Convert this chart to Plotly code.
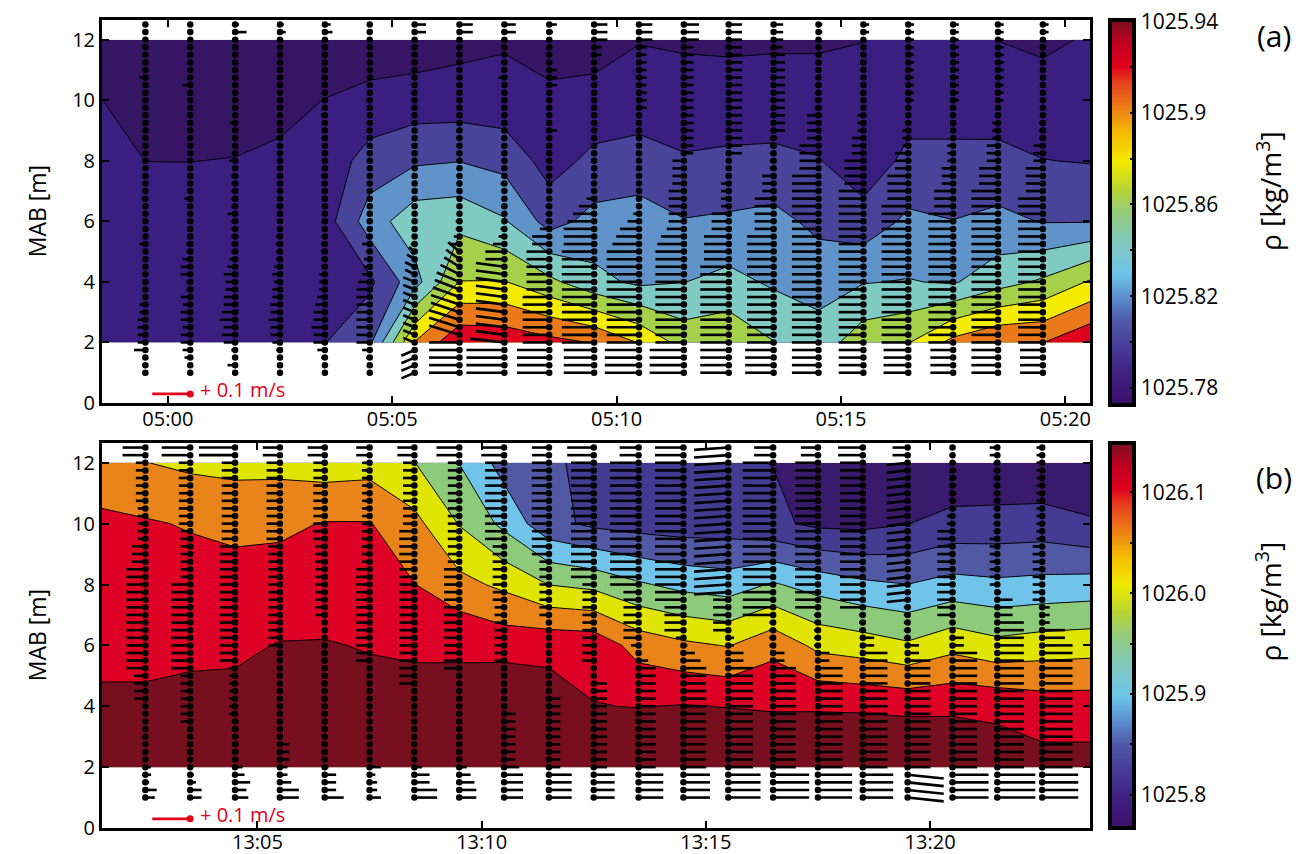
import pandas as pd
import plotly.graph_objects as go

# ------------------------------------------------------------------ data
DATE = "2014-06-01"

# profile (ADCP) times, one stick profile each
TIMES_A = ["04:59:30", "05:00:30", "05:01:30", "05:02:30", "05:03:30", "05:04:30", "05:05:30",
           "05:06:30", "05:07:30", "05:08:30", "05:09:30", "05:10:30", "05:11:30", "05:12:30",
           "05:13:30", "05:14:30", "05:15:30", "05:16:30", "05:17:30", "05:18:30", "05:19:30"]
TIMES_B = ["13:02:30", "13:03:30", "13:04:30", "13:05:30", "13:06:30", "13:07:30", "13:08:30",
           "13:09:30", "13:10:30", "13:11:30", "13:12:30", "13:13:30", "13:14:30", "13:15:30",
           "13:16:30", "13:17:30", "13:18:30", "13:19:30", "13:20:30", "13:21:30", "13:22:30"]
# time limits of the panels (also the outer columns of the density grid)
EDGES_A = ["04:58:32", "05:20:33"]
EDGES_B = ["13:01:32", "13:23:34"]

# density grid heights (m above bottom)
GRID_HEIGHTS = [2, 4, 6, 8, 10, 12]

# density columns [kg/m3] at GRID_HEIGHTS: left edge, 21 profiles, right edge
RHO_A = [
    [1025.792, 1025.790, 1025.788, 1025.786, 1025.7802, 1025.764],
    [1025.792, 1025.790, 1025.788, 1025.7799, 1025.770, 1025.762],
    [1025.792, 1025.790, 1025.788, 1025.7798, 1025.770, 1025.762],
    [1025.792, 1025.790, 1025.788, 1025.7806, 1025.771, 1025.762],
    [1025.792, 1025.790, 1025.789, 1025.785, 1025.772, 1025.762],
    [1025.7994, 1025.790, 1025.791, 1025.788, 1025.7806, 1025.762],
    [1025.816, 1025.796, 1025.830, 1025.808, 1025.786, 1025.768],
    [1025.901, 1025.832, 1025.852, 1025.817, 1025.789, 1025.7688],
    [1025.936, 1025.8804, 1025.8544, 1025.8194, 1025.789, 1025.774],
    [1025.934, 1025.881, 1025.842, 1025.8134, 1025.788, 1025.7776],
    [1025.926, 1025.865, 1025.812, 1025.792, 1025.784, 1025.772],
    [1025.919, 1025.846, 1025.8266, 1025.805, 1025.787, 1025.771],
    [1025.899, 1025.836, 1025.830, 1025.807, 1025.791, 1025.779],
    [1025.872, 1025.8396, 1025.821, 1025.802, 1025.788, 1025.7776],
    [1025.875, 1025.846, 1025.823, 1025.804, 1025.788, 1025.7768],
    [1025.8606, 1025.837, 1025.826, 1025.805, 1025.788, 1025.7776],
    [1025.849, 1025.832, 1025.815, 1025.801, 1025.788, 1025.7776],
    [1025.872, 1025.839, 1025.808, 1025.788, 1025.784, 1025.7798],
    [1025.879, 1025.841, 1025.824, 1025.805, 1025.791, 1025.783],
    [1025.906, 1025.838, 1025.8204, 1025.805, 1025.791, 1025.783],
    [1025.919, 1025.852, 1025.825, 1025.806, 1025.789, 1025.7798],
    [1025.9196, 1025.863, 1025.819, 1025.8004, 1025.789, 1025.776],
    [1025.937, 1025.882, 1025.819, 1025.799, 1025.790, 1025.782],
]
RHO_B = [
    [1026.116, 1026.104, 1026.094, 1026.080, 1026.064, 1026.048],
    [1026.116, 1026.104, 1026.094, 1026.080, 1026.064, 1026.0208],
    [1026.118, 1026.108, 1026.094, 1026.078, 1026.0568, 1026.012],
    [1026.120, 1026.110, 1026.094, 1026.076, 1026.050, 1026.008],
    [1026.120, 1026.112, 1026.1016, 1026.078, 1026.052, 1026.008],
    [1026.120, 1026.112, 1026.102, 1026.082, 1026.062, 1026.000],
    [1026.120, 1026.112, 1026.098, 1026.082, 1026.062, 1026.004],
    [1026.120, 1026.110, 1026.096, 1026.0608, 1026.032, 1025.9808],
    [1026.120, 1026.110, 1026.096, 1026.032, 1025.978, 1025.9392],
    [1026.148, 1026.140, 1026.0844, 1026.0116, 1025.930, 1025.884],
    [1026.140, 1026.1192, 1026.0888, 1025.9792, 1025.872, 1025.866],
    [1026.140, 1026.1012, 1026.0864, 1025.9696, 1025.852, 1025.850],
    [1026.140, 1026.0988, 1026.0444, 1025.9452, 1025.844, 1025.832],
    [1026.140, 1026.102, 1026.028, 1025.928, 1025.840, 1025.828],
    [1026.140, 1026.0988, 1026.018, 1025.920, 1025.840, 1025.826],
    [1026.140, 1026.096, 1026.048, 1025.944, 1025.828, 1025.8192],
    [1026.140, 1026.096, 1026.010, 1025.924, 1025.812, 1025.788],
    [1026.148, 1026.094, 1026.000, 1025.908, 1025.810, 1025.780],
    [1026.148, 1026.090, 1025.986, 1025.9004, 1025.8192, 1025.788],
    [1026.140, 1026.092, 1026.008, 1025.914, 1025.834, 1025.784],
    [1026.124, 1026.090, 1025.992, 1025.908, 1025.836, 1025.784],
    [1026.114, 1026.080, 1026.000, 1025.912, 1025.838, 1025.784],
    [1026.114, 1026.080, 1026.004, 1025.916, 1025.824, 1025.792],
]

# contour levels
LEVELS_A = dict(start=1025.78, end=1025.92, size=0.02)
LEVELS_B = dict(start=1025.82, end=1026.10, size=0.04)

# velocity bins (m above bottom)
BIN_HEIGHTS = [1.0, 1.25, 1.5, 1.75, 2.0, 2.25, 2.5, 2.75, 3.0, 3.25,
               3.5, 3.75, 4.0, 4.25, 4.5, 4.75, 5.0, 5.25, 5.5, 5.75,
               6.0, 6.25, 6.5, 6.75, 7.0, 7.25, 7.5, 7.75, 8.0, 8.25,
               8.5, 8.75, 9.0, 9.25, 9.5, 9.75, 10.0, 10.25, 10.5, 10.75,
               11.0, 11.25, 11.5, 11.75, 12.0, 12.25, 12.5]

# along-channel velocity [cm/s] per profile and bin (positive = drawn to the left)
U_A = [
    [0, 0, 0, 3, 2, 2, 2, 2, 1.5, 1.5, 0.5, 0.5, 0.5, 0.5, 0.5, 0.5, 0.5, 1.5, 0.5, 0.5,
     0.5, 0.5, 0.5, 1, 0.5, 0.5, 0.5, 0.5, 0.5, 0.5, 0.5, 0.5, 0.5, 0.5, 0.5, 0.5, 0.5, 0.5, 0.5, 1.5,
     0.5, 0.5, 0.5, 0.5, 0, 0, 0],
    [0, 0, 1.5, 2, 2.5, 2.5, 2, 2.5, 2.5, 2, 2.5, 1, 1, 2.5, 2.5, 2, 1, 1, 0.5, 0.5,
     0.5, 0.5, 0.5, 1.5, 0.5, 0.5, 0.5, 0.5, 0.5, 0.5, 0.5, 0.5, 0.5, 0.5, 0.5, 0.5, 0.5, 0.5, 2, 0.5,
     0.5, 0.5, 0.5, 0.5, 0.5, 0, 0],
    [0, 2, 0.5, 1, 3, 3.5, 3, 4, 3.5, 3, 3, 2.5, 2.5, 3, 2, 1.5, 1, 1, 1, 1,
     1, 2, 1, 1, 1, 1, 1, 0.5, 1.5, 0.5, 0.5, 0.5, 0.5, 1.5, 0.5, 0.5, 0.5, 0.5, 0.5, 0.5,
     0.5, 0.5, 0.5, 0.5, 0.5, -3, -1],
    [0.5, 0.5, 0.5, 1, 2, 2.5, 2.5, 3, 2.5, 2.5, 2, 2, 1.5, 2, 1.5, 1, 1, 1, 1, 0.5,
     0.5, 0.5, 1, 0.5, 0.5, 0.5, 0.5, 0.5, 0.5, 0.5, 0.5, 1, 0.5, 0.5, 0.5, 0.5, 0.5, 0.5, 0.5, 0.5,
     0.5, 0.5, 0.5, 0.5, 0.5, -1.5, -1],
    [0.5, 0.5, 1, 2, 3, 3, 3.5, 3, 3, 2.5, 2, 1.5, 1.5, 1.5, 1, 1, 1, 1, 0.5, 0.5,
     0.5, 0.5, 0.5, 0.5, 0.5, 0.5, 1, 0.5, 0.5, 0.5, 0.5, 0.5, 0.5, 0.5, 1, 0.5, 0.5, 0.5, 0.5, 0.5,
     0.5, 0.5, 0.5, 0.5, 0.5, -2, -1.5],
    [0.5, 0.5, 1, 2, 3.5, 3.5, 3.5, 3.5, 3.5, 3.5, 3.5, 3.5, 3, 2, 1.5, 1.5, 1, 2, 1, 0.5,
     0.5, 0.5, 0.5, 0.5, 0.5, 0.5, 0.5, 0.5, 0.5, 0.5, 0.5, 0.5, 0.5, 0.5, 0.5, 0.5, 1, 0.5, 0.5, 0.5,
     0.5, 0.5, 0.5, 0.5, 0.5, -0.5, -0.5],
    [3.5, 3.5, 3.5, 3.5, 3, 3, 3, 3, 3, 3, 3, 3, 3, 2.5, 2.5, 2, 1.5, 1, 0.5, 0.5,
     0.5, 0.5, 0.5, 0.5, 0.5, 0.5, 0.5, 0.5, 0.5, 0.5, 0.5, 0.5, 0.5, 0.5, 0.5, 0.5, 0.5, 1, 0.5, 0.5,
     0.5, 0.5, 0.5, 0.5, 0.5, -3, -3],
    [8, 8, 8, 8, 8, 8, 8, 8, 7.5, 7.5, 7, 6.5, 6, 5, 4, 3.5, 3, 2.5, 1.5, 1,
     1, 0.5, 0.5, 0.5, 0.5, 0.5, 0.5, 0.5, 0.5, 0.5, 0.5, 0.5, 0.5, 0.5, 0.5, 0.5, 0.5, 0.5, 0.5, 0.5,
     0.5, 0.5, 0.5, 0.5, 0.5, -3.5, -3.5],
    [10, 10, 10, 10, 9, 7.5, 7.5, 7.5, 7.5, 7.5, 7.5, 7.5, 7.5, 7.5, 7.5, 5, 5, 3, 1.5, 1,
     0.5, 0.5, 0.5, 0.5, 0.5, 1, 0.5, 0.5, 0.5, 0.5, 0.5, 0.5, 0.5, 0.5, 0.5, 0.5, 0.5, 0.5, 0.5, 1.5,
     0.5, 0.5, 0.5, 0.5, 0.5, -3, -3],
    [8.5, 8.5, 8.5, 8.5, 7, 7, 7, 7, 7, 7, 7, 6, 6, 6, 6, 6, 6, 4.5, 4.5, 2.5,
     1, 1, 1, 0.5, 0.5, 0.5, 0.5, 0.5, 0.5, 0.5, 0.5, 0.5, -2, 0.5, 0.5, 0.5, 0.5, 0.5, -2, -2,
     -2, 0.5, 0.5, 0.5, 0.5, -1, -2],
    [8, 8, 8, 8, 8.5, 8.5, 8.5, 8.5, 8.5, 8.5, 8.5, 8.5, 8.5, 8.5, 8.5, 8.5, 8.5, 8, 8, 8,
     7, 5.5, 4, 2, 0.5, 0.5, 0.5, 0.5, 0.5, 0.5, 0.5, 0.5, 0.5, 0.5, 0.5, 0.5, 0.5, 0.5, 0.5, 0.5,
     0.5, 0.5, -2, -2, -3.5, -3.5, -3.5],
    [9, 9, 9, 9, 8.5, 8.5, 8.5, 8.5, 8.5, 8.5, 8.5, 8.5, 8.5, 8.5, 8.5, 8.5, 8.5, 7, 6, 5,
     3, 1.5, 0.5, 0.5, 0.5, 0.5, 0.5, 0.5, 0.5, 0.5, 0.5, 0.5, 0.5, 0.5, 0.5, -2, -2, -2, -2, -2,
     -2, -2, -2, -2, -3.5, -3.5, -3.5],
    [9, 9, 9, 9, 7.5, 7.5, 7.5, 7.5, 7.5, 7.5, 7.5, 7.5, 7.5, 7.5, 7.5, 7.5, 7.5, 7, 6, 4.5,
     4, 4, 4, 4, 4, 3, 3, 3, 3, -2.5, -2.5, -2.5, -2.5, -2.5, -2.5, -2.5, -2.5, -2.5, -2.5, -2.5,
     -2.5, -2.5, -2.5, -2.5, -4, -4, -4],
    [7.5, 7.5, 7.5, 7.5, 7.5, 7.5, 7.5, 7.5, 7.5, 7.5, 7.5, 7.5, 7.5, 7.5, 7.5, 6.5, 6.5, 6.5, 6.5, 4.5,
     4.5, 4.5, 2, 2, 2, 2, 0.5, 0.5, 0.5, -3.5, -3.5, -3.5, -3.5, -3.5, -3.5, -3.5, -3.5, -3.5, -3.5, -3.5,
     -3.5, -3.5, -3.5, -3.5, -3.5, -3.5, -3.5],
    [7.5, 7.5, 7.5, 7.5, 7, 7, 7, 7, 7, 7, 7, 7, 7, 7, 7, 7, 7, 7, 7, 5,
     5, 5, 5, 5, 3, 3, 3, 1, 1, 1, 1, 1, -3, -3, -3, -3, -3, -3, -3, -3,
     -3, -3, -3, -2.5, -2.5, -2.5, -2.5],
    [7, 7, 7, 7, 7, 7, 7, 7, 7, 7, 7, 7, 7, 7, 7, 7, 7, 7, 7, 7,
     7, 7, 7, 7, 7, 7, 7, 5, 5, 5, 5, 3, 3, 3, 3, 1, 1, 1, 1, 0.5,
     0.5, 0.5, 0.5, 0.5, 0.5, -1, -1],
    [6.5, 6.5, 6.5, 6.5, 6.5, 6.5, 6.5, 6.5, 6.5, 6.5, 6.5, 6.5, 6.5, 6.5, 6.5, 6.5, 6.5, 6.5, 6.5, 6.5,
     6.5, 6.5, 6.5, 6.5, 6.5, 5, 5, 5, 5, 3, 3, 3, 1.5, 1.5, 1.5, 0.5, 0.5, 0.5, 0.5, 0.5,
     0.5, 0.5, 0.5, 0.5, 0.5, -1.5, -1.5],
    [6.5, 6.5, 6.5, 6.5, 7, 7, 7, 7, 7, 7, 7, 7, 7, 7, 7, 7, 7, 7, 7, 7,
     7, 7, 7, 5.5, 5.5, 5.5, 5.5, 3.5, 3.5, 3.5, 1.5, 1.5, 1.5, 0.5, 0.5, 0.5, -1.5, -1.5, -1.5, -1.5,
     -1.5, -1.5, -1.5, -1.5, -1.5, -1.5, -1.5],
    [6, 6, 6, 6, 6.5, 6.5, 6.5, 6.5, 6.5, 6.5, 6.5, 6.5, 6.5, 6.5, 6.5, 6.5, 6.5, 6.5, 6.5, 6.5,
     6.5, 6.5, 5, 5, 5, 3, 3, 3, 1.5, 1.5, 1.5, 0.5, 0.5, 0.5, 0.5, 0.5, -1.5, -1.5, -1.5, -1.5,
     -1.5, -1.5, -1.5, -1.5, -1.5, -1.5, -1.5],
    [7, 7, 7, 7, 7, 7, 7, 7, 7, 7, 7, 7, 7, 7, 7, 7, 7, 7, 7, 7,
     7, 7, 7, 7, 7, 5, 5, 5, 3, 3, 3, 1.5, 1.5, 1.5, 0.5, 0.5, -1.5, -1.5, -1.5, -1.5,
     -1.5, -1.5, -1.5, -1.5, -1.5, -1.5, -1.5],
    [6, 6, 6, 6, 6.5, 6.5, 6.5, 6.5, 6.5, 6.5, 6.5, 6.5, 6.5, 6.5, 6.5, 6.5, 6.5, 6.5, 6.5, 6.5,
     6.5, 6.5, 6.5, 6.5, 4.5, 4.5, 4.5, 4.5, 2.5, 2.5, 2.5, 1, 1, 1, 0.5, 0.5, 0.5, 0.5, 0.5, 0.5,
     0.5, 0.5, 0.5, 0.5, 0.5, -1.5, -1.5],
]
U_B = [
    [-2.5, -3, -1, -1.5, -1.5, 0.5, 0.5, 0.5, 0.5, 0.5, 0.5, 0.5, 0.5, 3, 3, 3, 3, 5, 5, 5,
     5, 5, 5, 5, 5, 5, 5, 5, 5, 5, 5, 3.5, 3.5, 3.5, 2, 2, 2, 2, 2, 2.5,
     2.5, 2.5, 2.5, 2.5, 2.5, 6, 6],
    [-3, -3, -1.5, -1, -0.5, 0.5, 0.5, 0.5, 0.5, 0.5, 2.5, 2.5, 2.5, 2.5, 2.5, 2.5, 2.5, 5, 5, 5,
     5, 5, 5, 5, 5, 5, 5, 5, 5, 2.5, 2.5, 2.5, 2.5, 2.5, 2.5, 2.5, 3, 3, 3, 3,
     3, 3, 3, 3, 3, 7.5, 7.5],
    [-3.5, -3, -4, -2.5, -2, -1, -1, -1, -1, -1, -1, 1.5, 1.5, 1.5, 1.5, 1.5, 1.5, 1.5, 4, 4,
     4, 4, 4, 4, 4, 4, 4, 4, 4, 4, 4, 4, 4, 4, 3.5, 3.5, 3.5, 3.5, 3.5, 3.5,
     3.5, 3.5, 3.5, 3.5, 3.5, 9.5, 9.5],
    [-5, -5, -3, -2, -2, -2.5, -2.5, -2.5, 0.5, 0.5, 0.5, 0.5, 0.5, 0.5, 0.5, 0.5, 0.5, 0.5, 0.5, 0.5,
     3, 3, 3, 3, 3, 3, 3, 3, 3, 3, 3, 3, 3, 3, 3.5, 3.5, 3.5, 3.5, 3.5, 3.5,
     3.5, 3.5, 3.5, 3.5, 3.5, 4.5, 4.5],
    [-5, -3, -3, -3, -1, 0.5, 0.5, 0.5, 0.5, 0.5, 0.5, 0.5, 0.5, 0.5, 0.5, 0.5, 0.5, 0.5, 0.5, 0.5,
     0.5, 0.5, 0.5, 0.5, 2.5, 2.5, 2.5, 2.5, 2.5, 2.5, 2.5, 2.5, 2.5, 2.5, 3, 3, 3, 3, 3, 3,
     3, 3, 3, 3, 3, 4.5, 4.5],
    [-3, -2, -2, -1.5, -3, 0.5, 0.5, 0.5, 0.5, 0.5, 0.5, 0.5, 0.5, 0.5, 0.5, 0.5, 0.5, 0.5, 3.5, 3.5,
     3.5, 3.5, 3.5, 3.5, 3.5, 3.5, 3.5, 3.5, 3.5, 3.5, 3.5, 2, 2, 2, 2, 2, 2, 2, 2, 2,
     2, 2, 2, 2, 2, 3.5, 3.5],
    [-6, -6, -4, -4, -2, 0.5, 0.5, 0.5, 0.5, 0.5, 0.5, 0.5, 0.5, 0.5, 0.5, 4, 4, 4, 4, 4,
     4, 4, 4, 4, 4, 4, 4, 4, 4, 4, 4, 4, 4, 4, 4, 4, 3, 3, 3, 3,
     3, 3, 3, 3, 3, 4.5, 4.5],
    [-4.5, -4.5, -4, -3, -2, 0.5, 0.5, 0.5, 0.5, 0.5, 0.5, 0.5, 0.5, 0.5, 0.5, 0.5, 0.5, 4, 4, 4,
     4, 4, 4, 4, 4, 4, 4, 4, 4, 4, 4, 3, 3, 3, 3, 3, 3, 3, 3, 3,
     3, 3, 3, 3, 3, 6, 6],
    [-5, -5, -5, -5, -4, -3, -3, -3, -3, -3, -3, -3, 0.5, 0.5, 0.5, 0.5, 0.5, 0.5, 2.5, 2.5,
     2.5, 2.5, 2.5, 2.5, 2.5, 2.5, 3, 3, 3, 3, 3, 3, 3, 3, 5, 5, 5, 5, 5, 5,
     5, 5, 5, 5, 5, 6, 6],
    [-6, -6, -6, -6, -3, -3, -3, -3, -3, -3, -3, -3, -3, -3, 0.5, 0.5, 0.5, 0.5, 0.5, 0.5,
     0.5, 0.5, 0.5, 0.5, 2.5, 2.5, 2.5, 2.5, 2.5, 2.5, 2.5, 2.5, 4.5, 4.5, 4.5, 4.5, 4.5, 4.5, 4.5, 4.5,
     4.5, 4.5, 4.5, 4.5, 4.5, 4.5, 4.5],
    [-5.5, -5.5, -5.5, -5.5, -3.5, -3.5, -3.5, -3.5, -3.5, -3.5, -3.5, -3.5, -3.5, -3.5, -3.5, -3.5, 0.5, 0.5, 3, 3,
     3, 3, 3, 3, 3, 3, 3, 3, 3, 6, 6, 6, 6, 6, 6, 6, 6, 6, 6, 6,
     6, 6, 6, 6, 6, 7, 7],
    [-6.5, -6.5, -6.5, -6.5, -4.5, -4.5, -4.5, -4.5, -4.5, -4.5, -4.5, -4.5, -4.5, -4.5, -4.5, -4.5, -4.5, -4.5, -2.5, -0.5,
     2, 4, 4, 4, 4, 4, 4, 4, 7.5, 7.5, 7.5, 7.5, 7.5, 7.5, 7.5, 7.5, 7.5, 7.5, 7.5, 7.5,
     7.5, 7.5, 7.5, 7.5, 7.5, 5, 5],
    [-7, -7, -7, -7, -6, -6, -6, -6, -6, -6, -6, -6, -6, -6, -6, -6, -6, -6, -4.5, -3,
     -1, 2, 5, 5, 5, 5, 7.5, 7.5, 7.5, 7.5, 7.5, 7.5, 7.5, 7.5, 7.5, 7.5, 7.5, 7.5, 7.5, 7.5,
     7.5, 7.5, 7.5, 7.5, 7.5, 7.5, 7.5],
    [-8.5, -8.5, -8.5, -8.5, -6.5, -6.5, -6.5, -6.5, -6.5, -6.5, -6.5, -6.5, -6.5, -6.5, -6.5, -6.5, -6.5, -6.5, -4, -4,
     -1.5, -1.5, 4, 4, 4, 4, 4, 9, 9, 9, 9, 9, 9, 9, 9, 9, 9, 9, 9, 9,
     9, 9, 9, 9, 9, 9, 9],
    [-9.5, -9.5, -9.5, -9.5, -6, -6, -6, -6, -6, -6, -6, -6, -6, -6, -6, -6, -6, -6, -3, -3,
     1, 1, 1, 1, 8, 8, 8, 8, 8, 8, 8, 8, 8, 8, 8, 8, 8, 8, 8, 8,
     8, 8, 8, 8, 8, 5, 5],
    [-9, -9, -9, -9, -6.5, -6.5, -6.5, -6.5, -6.5, -6.5, -6.5, -6.5, -6.5, -6.5, -6.5, -6.5, -6.5, -6.5, -3, -3,
     1, 1, 1, 1, 1, 6, 6, 6, 6, 6, 6, 6, 6, 6, 6, 6, 6, 6, 6, 6,
     6, 6, 6, 6, 6, 4.5, 4.5],
    [-8, -8, -8, -8, -6.5, -6.5, -6.5, -6.5, -6.5, -6.5, -6.5, -6.5, -6.5, -6.5, -6.5, -6.5, -6.5, -6.5, -6.5, -6.5,
     -3, -3, 1, 1, 1, 6, 6, 6, 6, 6, 6, 6, 6, 6, 6, 6, 6, 6, 6, 6,
     6, 6, 6, 6, 6, 6.5, 6.5],
    [-9.5, -9.5, -9.5, -9.5, -6, -6, -6, -6, -6, -6, -6, -6, -6, -6, -6, -6, -6, -6, -6, -3,
     -3, 1, 1, 1, 1, 1, 5.5, 5.5, 5.5, 5.5, 5.5, 5.5, 5.5, 5.5, 5.5, 5.5, 5.5, 5.5, 5.5, 5.5,
     5.5, 5.5, 5.5, 5.5, 5.5, 4, 4],
    [-9.5, -9.5, -9.5, -9.5, -6.5, -6.5, -6.5, -6.5, -6.5, -6.5, -6.5, -6.5, -6.5, -6.5, -6.5, -6.5, -6.5, -6.5, -6.5, -6.5,
     -3, -3, 0.5, 0.5, 4, 4, 4, 4, 4, 4, 4, 4, 4, 4, 4, 4, 1.5, 1.5, -1, -1,
     -1, -1, -1, -1, -1, 0.5, 0.5],
    [-10, -10, -10, -10, -7, -7, -7, -7, -7, -7, -7, -7, -7, -7, -7, -7, -7, -7, -7, -7,
     -7, -7, -7, -7, -4, -4, -4, -1, 2, 2, 2, 2, 2, 2, 2, 1, 1, 1, 1, 1,
     1, 1, 1, 1, 1, 2, 2],
    [-9.5, -9.5, -9.5, -9.5, -8, -8, -8, -8, -8, -8, -8, -8, -8, -8, -8, -8, -8, -8, -8, -8,
     -8, -6, -6, -2, -2, -2, 2.5, 2.5, 2.5, 2.5, 2.5, 2.5, 2.5, 2.5, 1.5, 1.5, 1.5, 1.5, 1.5, 1.5,
     1.5, 1.5, 1.5, 1.5, 1.5, 1.5, 1.5],
]
# vertical stick component [cm/s] for the profiles where the sticks are visibly tilted
V_A = {
    6: [-1.5, -1.5, -1.5, -1.5, 1.2, 1.2, 1.2, 1.2, 1.2, 1.2, 1.2, 1.2, 1.2, 1.2, 1.2, 1.2, 1.2, 0, 0, 0,
        0, 0, 0, 0, 0, 0, 0, 0, 0, 0, 0, 0, 0, 0, 0, 0, 0, 0, 0, 0, 0, 0, 0, 0, 0, 0, 0],
    7: [0, 0, 0, 0, 0, 2.5, 2.5, 2.5, 2.5, 2.5, 2.5, 2.5, 2.5, 2.5, 2.5, 2.5, 2.5, 0, 0, 0,
        0, 0, 0, 0, 0, 0, 0, 0, 0, 0, 0, 0, 0, 0, 0, 0, 0, 0, 0, 0, 0, 0, 0, 0, 0, 0, 0],
    8: [0, 0, 0, 0, 1, 1, 1, 1, 1, 1, 1, 1, 1, 1, 1, 0, 0, 0, 0, 0,
        0, 0, 0, 0, 0, 0, 0, 0, 0, 0, 0, 0, 0, 0, 0, 0, 0, 0, 0, 0, 0, 0, 0, 0, 0, 0, 0],
}
V_B = {
    13: [0, 0, 0, 0, 0, 0, 0, 0, 0, 0, 0, 0, 0, 0, 0, 0, 0, 0, 0, 0,
         0, 0, 0, 0, 0, 0, 0, -0.6, -0.6, -0.6, -0.6, -0.6, -0.6, -0.6, -0.6, -0.6, -0.6, -0.6, -0.6, -0.6,
         -0.6, -0.6, -0.6, -0.6, -0.6, -0.6, -0.6],
    17: [-1, -1, -1, -1, 0, 0, 0, 0, 0, 0, 0, 0, 0, 0, 0, 0, 0, 0, 0, 0,
         0, 0, 0, 0, 0, 0, -0.6, -0.6, -0.6, -0.6, -0.6, -0.6, -0.6, -0.6, -0.6, -0.6, -0.6, -0.6, -0.6, -0.6,
         -0.6, -0.6, -0.6, -0.6, -0.6, 0, 0],
}

SCALE_SPEED_CMS = 10          # reference stick: +0.1 m/s
SCALE_LABEL = "+ 0.1 m/s"
SCALE_HEIGHT = 0.3            # m

# colours
BAND_COLORS_A = ["#361565", "#3a1e80", "#48449a", "#5f93c9", "#80cac4", "#a4d04a", "#f3ec00", "#ea7a19", "#e0001f"]
BAND_COLORS_B = ["#391a6c", "#453a91", "#5159a4", "#70c4e9", "#8dcb7b", "#dfe500", "#e8841a", "#dd0024", "#780f1e"]
CB_SCALE = [[0.00, "#3b0f6b"], [0.08, "#40207f"], [0.16, "#48409a"], [0.22, "#4f5aa8"],
            [0.28, "#5a90cf"], [0.34, "#6ec4ea"], [0.42, "#80c9c0"], [0.50, "#94cc7c"],
            [0.56, "#b8d434"], [0.63, "#f0ea00"], [0.70, "#f5c000"], [0.76, "#ee8a14"],
            [0.84, "#e53d1d"], [0.88, "#e2001a"], [0.94, "#c00020"], [1.00, "#7a1020"]]
CB_RANGE_A = [1025.7725, 1025.9405]
CB_RANGE_B = [1025.767, 1026.149]
CB_TICKS_A = [1025.78, 1025.80, 1025.82, 1025.84, 1025.86, 1025.88, 1025.90, 1025.92, 1025.94]
CB_LABELS_A = ["1025.78", "", "1025.82", "", "1025.86", "", "1025.9", "", "1025.94"]
CB_TICKS_B = [1025.80, 1025.85, 1025.90, 1025.95, 1026.00, 1026.05, 1026.10]
CB_LABELS_B = ["1025.8", "", "1025.9", "", "1026.0", "", "1026.1"]
Y_TICKS = [0, 2, 4, 6, 8, 10, 12]

RED = "#e2001a"
FONT = "Open Sans"

# stick drawing scale (0.1 m/s -> 38 px)
SEC_PER_CMS = 5.08    # horizontal: seconds of time axis per cm/s
M_PER_CMS = 0.125     # vertical: metres of height axis per cm/s

for lst in U_A + U_B + list(V_A.values()) + list(V_B.values()):
    assert len(lst) == len(BIN_HEIGHTS), len(lst)


# ------------------------------------------------------------------ helpers
def ts(t):
    return pd.Timestamp(f"{DATE} {t}")


def band_scale(colors):
    n = len(colors) - 1
    return [[k / n, c] for k, c in enumerate(colors)]


def sticks(times, ulists, vdict):
    xs, ys = [], []
    for k, t in enumerate(times):
        t0 = ts(t)
        vl = vdict.get(k)
        for i, h in enumerate(BIN_HEIGHTS):
            u = ulists[k][i]
            v = vl[i] if vl is not None else 0.0
            xs += [t0, t0 - pd.Timedelta(seconds=u * SEC_PER_CMS), None]
            ys += [h, h + v * M_PER_CMS, None]
    return xs, ys


def dots(times):
    xs, ys = [], []
    for t in times:
        for h in BIN_HEIGHTS:
            xs.append(ts(t))
            ys.append(h)
    return xs, ys


fig = go.Figure()

panels = [
    dict(times=TIMES_A, edges=EDGES_A, rho=RHO_A, lev=LEVELS_A, bands=BAND_COLORS_A, u=U_A, v=V_A,
         xa="x", ya="y", cbr=CB_RANGE_A, cbt=CB_TICKS_A, cbl=CB_LABELS_A, cby=0.5235),
    dict(times=TIMES_B, edges=EDGES_B, rho=RHO_B, lev=LEVELS_B, bands=BAND_COLORS_B, u=U_B, v=V_B,
         xa="x2", ya="y2", cbr=CB_RANGE_B, cbt=CB_TICKS_B, cbl=CB_LABELS_B, cby=0.0),
]

for p in panels:
    colx = [ts(p["edges"][0])] + [ts(t) for t in p["times"]] + [ts(p["edges"][1])]
    z = [[col[r] for col in p["rho"]] for r in range(len(GRID_HEIGHTS))]
    fig.add_trace(go.Contour(
        x=colx, y=GRID_HEIGHTS, z=z, xaxis=p["xa"], yaxis=p["ya"],
        contours=dict(start=p["lev"]["start"], end=p["lev"]["end"], size=p["lev"]["size"],
                      coloring="fill", showlines=True),
        line=dict(color="black", width=1, smoothing=0),
        colorscale=band_scale(p["bands"]), showscale=False, hoverinfo="skip"))

for p in panels:
    sx, sy = sticks(p["times"], p["u"], p["v"])
    fig.add_trace(go.Scatter(x=sx, y=sy, mode="lines", xaxis=p["xa"], yaxis=p["ya"],
                             line=dict(color="black", width=2.6), hoverinfo="skip"))
    dx, dy = dots(p["times"])
    fig.add_trace(go.Scatter(x=dx, y=dy, mode="markers", xaxis=p["xa"], yaxis=p["ya"],
                             marker=dict(color="black", size=6.5, line=dict(width=0)), hoverinfo="skip"))
    # reference stick
    t0 = ts(p["times"][1])
    t1 = t0 - pd.Timedelta(seconds=SCALE_SPEED_CMS * SEC_PER_CMS)
    fig.add_trace(go.Scatter(x=[t0, t1], y=[SCALE_HEIGHT, SCALE_HEIGHT], mode="lines",
                             xaxis=p["xa"], yaxis=p["ya"], line=dict(color=RED, width=2.6),
                             hoverinfo="skip"))
    fig.add_trace(go.Scatter(x=[t0], y=[SCALE_HEIGHT], mode="markers", xaxis=p["xa"], yaxis=p["ya"],
                             marker=dict(color=RED, size=7), hoverinfo="skip"))
    fig.add_annotation(x=t0, y=SCALE_HEIGHT, xref=p["xa"], yref=p["ya"], text=SCALE_LABEL,
                       showarrow=False, xanchor="left", yanchor="middle", xshift=9, yshift=4,
                       borderpad=0, font=dict(size=20, color=RED, family=FONT))
    # continuous colour bar
    fig.add_trace(go.Scatter(
        x=[ts(p["times"][0])], y=[BIN_HEIGHTS[0]], mode="markers", xaxis=p["xa"], yaxis=p["ya"],
        marker=dict(size=1, opacity=0, color=[p["cbr"][0]], colorscale=CB_SCALE,
                    cmin=p["cbr"][0], cmax=p["cbr"][1], showscale=True,
                    colorbar=dict(x=1.0202, xanchor="left", y=p["cby"], yanchor="bottom",
                                  len=0.4765, lenmode="fraction", thickness=24, thicknessmode="pixels",
                                  outlinewidth=4, outlinecolor="black", xpad=0, ypad=0,
                                  ticks="inside", ticklen=6, tickwidth=1.5, tickcolor="black",
                                  tickvals=p["cbt"], ticktext=p["cbl"],
                                  tickfont=dict(size=21, family=FONT, color="black"))),
        hoverinfo="skip"))

axis_common = dict(showline=True, linewidth=3, linecolor="black", mirror="ticks", ticks="inside",
                   ticklen=7, tickwidth=1.5, tickcolor="black", showgrid=False, zeroline=False,
                   tickfont=dict(size=20, family=FONT, color="black"))

fig.update_layout(
    width=1299, height=854, showlegend=False, hovermode=False,
    paper_bgcolor="white", plot_bgcolor="white",
    font=dict(family=FONT, color="black"),
    margin=dict(l=102, r=209, t=20, b=26, autoexpand=False),
    xaxis=dict(domain=[0, 1], anchor="y", type="date", range=[ts(EDGES_A[0]), ts(EDGES_A[1])],
               tickformat="%H:%M", dtick=300000, tick0=f"{DATE} 00:00:00",
               ticklabelstandoff=-4, **axis_common),
    yaxis=dict(domain=[0.526, 1], anchor="x", range=[0, 12.65], tickvals=Y_TICKS, **axis_common),
    xaxis2=dict(domain=[0, 1], anchor="y2", type="date", range=[ts(EDGES_B[0]), ts(EDGES_B[1])],
                tickformat="%H:%M", dtick=300000, tick0=f"{DATE} 00:00:00",
                ticklabelstandoff=-6, **axis_common),
    yaxis2=dict(domain=[0, 0.4765], anchor="x2", range=[0, 12.65], tickvals=Y_TICKS, **axis_common),
)

for yc in [(0.526 + 1) / 2, 0.4765 / 2]:
    fig.add_annotation(x=-0.065, y=yc, xref="paper", yref="paper", text="MAB [m]", textangle=-90,
                       showarrow=False, xanchor="center", yanchor="middle",
                       font=dict(size=23, family=FONT, color="black"))
for yc in [0.788, 0.280]:
    fig.add_annotation(x=1.181, y=yc, xref="paper", yref="paper", text="ρ [kg/m<sup>3</sup>]",
                       textangle=-90, showarrow=False, xanchor="center", yanchor="middle",
                       font=dict(size=28, family=FONT, color="black"))

fig.add_annotation(x=1.186, y=0.981, xref="paper", yref="paper", text="(a)", showarrow=False,
                   xanchor="center", yanchor="middle", font=dict(size=30, family=FONT, color="black"))
fig.add_annotation(x=1.186, y=0.434, xref="paper", yref="paper", text="(b)", showarrow=False,
                   xanchor="center", yanchor="middle", font=dict(size=30, family=FONT, color="black"))

fig.write_html("out.html", config={"displayModeBar": False},
               post_script="document.body.style.margin='0px'; document.body.style.overflow='hidden';")
